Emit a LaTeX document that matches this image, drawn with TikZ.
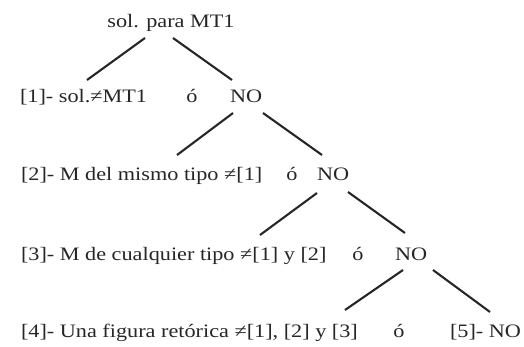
\documentclass[tikz,border=0pt]{standalone}
\usepackage{fontspec}
\setmainfont{Liberation Serif}[FakeStretch=1.17]
\usetikzlibrary{calc}
\definecolor{ink}{HTML}{262626}
\tikzset{
  lbl/.style={inner sep=0pt, outer sep=0pt, text=ink, font=\fontsize{19}{22}\selectfont},
  edge/.style={draw=ink, line width=2.1pt}
}
\begin{document}
\begin{tikzpicture}[x=1pt,y=-1pt]
\useasboundingbox (0,0) rectangle (524,347);
% texts
\node[lbl, anchor=base] (t) at (171,28) {sol. para MT1};
\node[lbl, anchor=base west] (l1) at (20,103) {[1]- sol.≠MT1};
\node[lbl, anchor=base] (o1) at (192,103) {ó};
\node[lbl, anchor=base west] (n1) at (230,103) {NO};
\node[lbl, anchor=base west] (l2) at (21,181) {[2]- M del mismo tipo ≠[1]};
\node[lbl, anchor=base] (o2) at (292,181) {ó};
\node[lbl, anchor=base west] (n2) at (317,181) {NO};
\node[lbl, anchor=base west] (l3) at (21,260) {[3]- M de cualquier tipo ≠[1] y [2]};
\node[lbl, anchor=base] (o3) at (358,260) {ó};
\node[lbl, anchor=base west] (n3) at (395,260) {NO};
\node[lbl, anchor=base west] (l4) at (21,337) {[4]- Una figura retórica ≠[1], [2] y [3]};
\node[lbl, anchor=base] (o4) at (399,337) {ó};
\node[lbl, anchor=base west] (l5) at (450,337) {[5]- NO};
% connectors
\draw[edge] ($(t.base)+(-26,10)$) -- ($(l1.base west)+(67,-23)$);
\draw[edge] ($(t.base)+(2,10)$) -- ($(n1.base west)+(2,-23)$);
\draw[edge] ($(n1.base west)+(3,10)$) -- ($(l2.base west)+(156,-26)$);
\draw[edge] ($(n1.base west)+(33,10)$) -- ($(n2.base west)+(5,-26)$);
\draw[edge] ($(n2.base west)+(0,12)$) -- ($(l3.base west)+(239,-25)$);
\draw[edge] ($(n2.base west)+(31,11)$) -- ($(n3.base west)+(10,-27)$);
\draw[edge] ($(n3.base west)+(8,10)$) -- ($(l4.base west)+(324,-27)$);
\draw[edge] ($(n3.base west)+(38,10)$) -- ($(l5.base west)+(40,-25)$);
\end{tikzpicture}
\end{document}
